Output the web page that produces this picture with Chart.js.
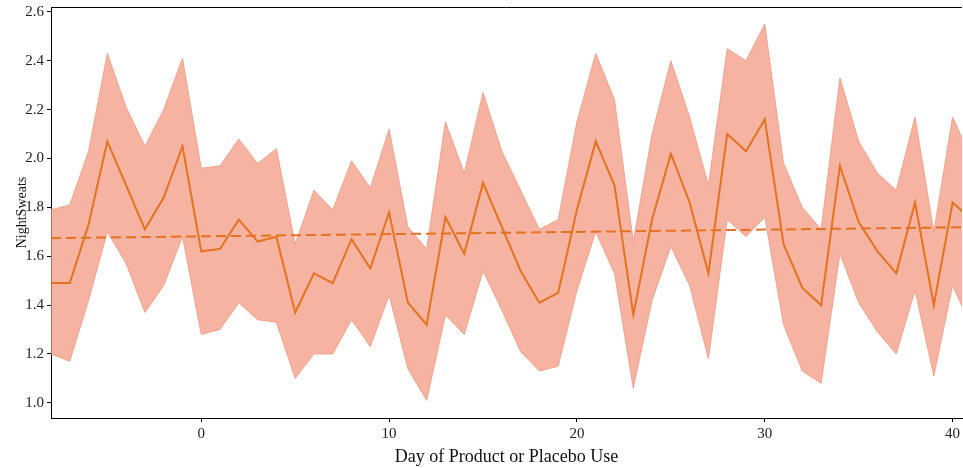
<!DOCTYPE html>
<html>
<head>
<meta charset="utf-8">
<script src="https://cdn.jsdelivr.net/npm/chart.js@4/dist/chart.umd.min.js"></script>
<style>
  html, body { margin: 0; padding: 0; background: #fff; }
  #wrap { width: 963px; height: 468px; }
</style>
</head>
<body>
<div id="wrap"><canvas id="sweatsChart" width="963" height="468"></canvas></div>
<script>
// days relative to first product/placebo use
var days = [-8, -7, -6, -5, -4, -3, -2, -1, 0, 1, 2, 3, 4, 5, 6, 7, 8, 9, 10, 11, 12, 13, 14, 15, 16,
    17, 18, 19, 20, 21, 22, 23, 24, 25, 26, 27, 28, 29, 30, 31, 32, 33, 34, 35, 36, 37, 38, 39, 40, 41];

// mean night sweats score per day
var meanScore = [1.49, 1.49, 1.73, 2.07, 1.89, 1.71, 1.84, 2.05, 1.62, 1.63, 1.75, 1.66, 1.68, 1.37, 1.53,
    1.49, 1.67, 1.55, 1.78, 1.41, 1.32, 1.76, 1.61, 1.90, 1.72, 1.54, 1.41, 1.45, 1.79, 2.07, 1.89,
    1.36, 1.75, 2.02, 1.82, 1.53, 2.10, 2.03, 2.16, 1.65, 1.47, 1.40, 1.97, 1.74, 1.62, 1.53, 1.82,
    1.40, 1.82, 1.75];

// confidence band, upper and lower edge
var upperScore = [1.79, 1.81, 2.03, 2.43, 2.21, 2.05, 2.20, 2.41, 1.96, 1.97, 2.08, 1.98, 2.04, 1.65, 1.87,
    1.79, 1.99, 1.88, 2.12, 1.72, 1.63, 2.15, 1.94, 2.27, 2.03, 1.87, 1.71, 1.75, 2.15, 2.43, 2.24,
    1.66, 2.10, 2.40, 2.17, 1.89, 2.45, 2.40, 2.55, 1.98, 1.80, 1.71, 2.33, 2.07, 1.94, 1.87, 2.17,
    1.70, 2.17, 2.00];
var lowerScore = [1.20, 1.17, 1.42, 1.70, 1.57, 1.37, 1.48, 1.68, 1.28, 1.30, 1.41, 1.34, 1.33, 1.10, 1.20,
    1.20, 1.34, 1.23, 1.44, 1.14, 1.01, 1.36, 1.28, 1.54, 1.38, 1.21, 1.13, 1.15, 1.46, 1.70, 1.53,
    1.06, 1.42, 1.64, 1.48, 1.18, 1.75, 1.68, 1.76, 1.32, 1.13, 1.08, 1.61, 1.41, 1.29, 1.20, 1.46,
    1.11, 1.48, 1.31];

// fitted trend, end points
var trendDays = [-8, 41];
var trendScore = [1.674, 1.719];

function toPoints(xs, ys) {
    return xs.map(function (x, i) { return { x: x, y: ys[i] }; });
}

var lineColor = '#e5721f';
var bandColor = 'rgba(243, 150, 125, 0.72)';
var serif = "'Liberation Serif', 'DejaVu Serif', serif";

// top spine, which Chart.js does not draw on its own
var topBorder = {
    id: 'topBorder',
    afterDraw: function (chart) {
        var ctx = chart.ctx;
        var area = chart.chartArea;
        ctx.save();
        ctx.strokeStyle = '#000';
        ctx.lineWidth = 1;
        ctx.beginPath();
        ctx.moveTo(area.left, area.top + 0.5);
        ctx.lineTo(area.right, area.top + 0.5);
        ctx.stroke();
        ctx.restore();
    }
};

var ctx = document.getElementById('sweatsChart').getContext('2d');
new Chart(ctx, {
    type: 'line',
    data: {
        datasets: [{
            label: 'upper',
            data: toPoints(days, upperScore),
            borderColor: 'rgba(243, 150, 125, 0.8)',
            borderWidth: 1,
            backgroundColor: bandColor,
            pointRadius: 0,
            tension: 0,
            fill: '+1',
            order: 3
        }, {
            label: 'lower',
            data: toPoints(days, lowerScore),
            borderColor: 'rgba(243, 150, 125, 0.8)',
            borderWidth: 1,
            pointRadius: 0,
            tension: 0,
            fill: false,
            order: 2
        }, {
            label: 'NightSweats',
            data: toPoints(days, meanScore),
            borderColor: lineColor,
            borderWidth: 2,
            pointRadius: 0,
            tension: 0,
            fill: false,
            order: 1
        }, {
            label: 'trend',
            data: toPoints(trendDays, trendScore),
            borderColor: lineColor,
            borderWidth: 2,
            borderDash: [10, 5],
            pointRadius: 0,
            fill: false,
            order: 0
        }]
    },
    options: {
        responsive: false,
        animation: false,
        layout: { padding: { top: 7, right: 1, left: 0, bottom: 0 } },
        plugins: {
            legend: { display: false },
            tooltip: { enabled: false }
        },
        scales: {
            x: {
                type: 'linear',
                min: -8,
                max: 40.5,
                afterFit: function (scale) {
                    scale.height = 50;
                    scale.paddingLeft = 0;
                    scale.paddingRight = 0;
                },
                border: { color: '#000', width: 1 },
                grid: { drawOnChartArea: false, drawTicks: true, tickLength: 4, color: '#000' },
                ticks: {
                    stepSize: 10,
                    includeBounds: false,
                    color: '#222',
                    padding: 3,
                    maxRotation: 0,
                    font: { family: serif, size: 15 }
                },
                title: {
                    display: true,
                    text: 'Day of Product or Placebo Use',
                    color: '#111',
                    padding: { top: 6, bottom: 0 },
                    font: { family: serif, size: 18 }
                }
            },
            y: {
                min: 0.938,
                max: 2.62,
                afterFit: function (scale) {
                    scale.width = 51;
                    scale.paddingTop = 0;
                    scale.paddingBottom = 0;
                },
                border: { color: '#000', width: 1 },
                grid: { drawOnChartArea: false, drawTicks: true, tickLength: 4, color: '#000' },
                ticks: {
                    stepSize: 0.2,
                    includeBounds: false,
                    color: '#222',
                    padding: 3,
                    font: { family: serif, size: 15 },
                    callback: function (v) { return v.toFixed(1); }
                },
                title: {
                    display: true,
                    text: 'NightSweats',
                    color: '#111',
                    padding: { top: 14, bottom: 0 },
                    font: { family: serif, size: 14 }
                }
            }
        }
    },
    plugins: [topBorder]
});
</script>
</body>
</html>
